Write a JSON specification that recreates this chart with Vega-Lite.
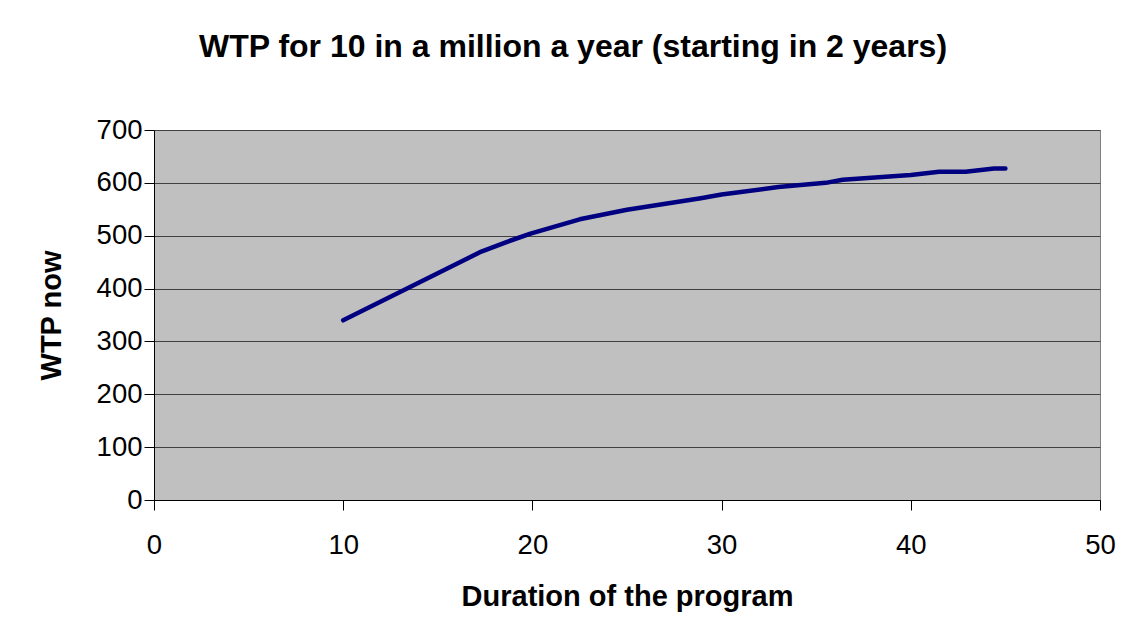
{
  "$schema": "https://vega.github.io/schema/vega-lite/v6.json",
  "autosize": {"type": "none"},
  "width": 946,
  "height": 370,
  "padding": {"left": 154, "top": 130, "right": 38, "bottom": 135},
  "background": "white",
  "title": {
    "text": "WTP for 10 in a million a year (starting in 2 years)",
    "font": "Liberation Sans",
    "fontSize": 32,
    "fontWeight": "bold",
    "color": "black",
    "anchor": "middle",
    "dx": -54,
    "offset": 52
  },
  "config": {
    "view": {"fill": "#C0C0C0", "stroke": "#808080", "strokeWidth": 1},
    "axis": {
      "labelFont": "Liberation Sans",
      "titleFont": "Liberation Sans",
      "labelColor": "black",
      "titleColor": "black",
      "domainColor": "black",
      "tickColor": "black",
      "labelFontSize": 27.5,
      "titleFontSize": 29,
      "titleFontWeight": "bold",
      "tickSize": 10
    }
  },
  "data": {
    "values": [
      {"duration": 10, "wtp": 340},
      {"duration": 17.3, "wtp": 470},
      {"duration": 18.7, "wtp": 489},
      {"duration": 19.9, "wtp": 504},
      {"duration": 22.5, "wtp": 531},
      {"duration": 25, "wtp": 549},
      {"duration": 28.9, "wtp": 571},
      {"duration": 30, "wtp": 578},
      {"duration": 33, "wtp": 592},
      {"duration": 35.5, "wtp": 600},
      {"duration": 36.4, "wtp": 606},
      {"duration": 40, "wtp": 615},
      {"duration": 41.5, "wtp": 621},
      {"duration": 42.9, "wtp": 621},
      {"duration": 44.4, "wtp": 627},
      {"duration": 45, "wtp": 627}
    ]
  },
  "mark": {"type": "line", "color": "#000080", "strokeWidth": 4.5, "strokeCap": "round", "strokeJoin": "round"},
  "encoding": {
    "x": {
      "field": "duration",
      "type": "quantitative",
      "title": "Duration of the program",
      "scale": {"domain": [0, 50], "nice": false, "zero": true},
      "axis": {"values": [0, 10, 20, 30, 40, 50], "grid": false, "labelPadding": 21, "titlePadding": 24, "labelFlush": false}
    },
    "y": {
      "field": "wtp",
      "type": "quantitative",
      "title": "WTP now",
      "scale": {"domain": [0, 700], "nice": false},
      "axis": {"values": [0, 100, 200, 300, 400, 500, 600, 700], "grid": true, "gridColor": "#404040", "gridOpacity": 1, "gridWidth": 1, "labelPadding": 2, "titlePadding": 30, "labelFlush": false}
    }
  }
}
